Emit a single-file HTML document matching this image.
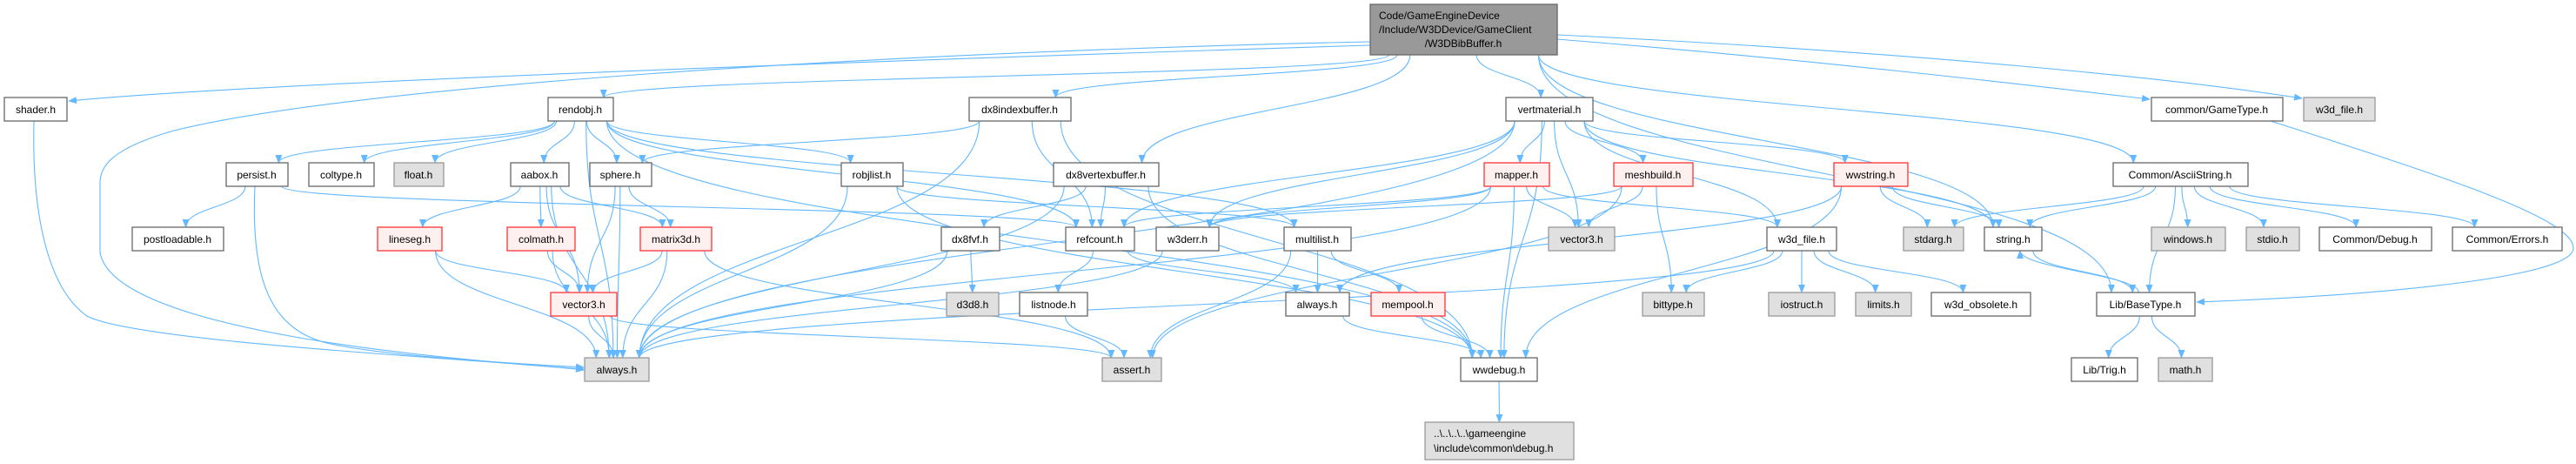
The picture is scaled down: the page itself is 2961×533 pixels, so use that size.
<!DOCTYPE html>
<html><head><meta charset="utf-8">
<style>
html,body{margin:0;padding:0;background:#fff;}
svg{display:block;}
text{font-family:"Liberation Sans",Arial,sans-serif;font-size:12px;fill:#000;}
.w rect{fill:#fff;stroke:#666;stroke-width:1.3;}
.g rect{fill:#e0e0e0;stroke:#999;stroke-width:1.3;}
.r rect{fill:#fff0f0;stroke:#f33;stroke-width:1.3;}
.t rect{fill:#999;stroke:#666;stroke-width:1.3;}
</style></head>
<body>
<svg id="s" width="2961" height="533" viewBox="0 0 2961 533" xmlns="http://www.w3.org/2000/svg">
<defs><marker id="a" markerWidth="10" markerHeight="8" refX="9" refY="4" orient="auto" markerUnits="userSpaceOnUse"><path d="M0,0 L10,4 L0,8 z" fill="#63b8ff"/></marker></defs>
<g id="edges" fill="none" stroke="#63b8ff" stroke-width="1.1"></g>
<g id="nodes">
<g id="T" class="t"><rect x="1575" y="5" width="215" height="58"/><text x="1585" y="22">Code/GameEngineDevice</text><text x="1585" y="38">/Include/W3DDevice/GameClient</text><text x="1682" y="54" text-anchor="middle">/W3DBibBuffer.h</text></g>
<g id="shader" class="w"><rect x="5" y="112" width="72" height="27"/><text x="41" y="130" text-anchor="middle">shader.h</text></g>
<g id="rendobj" class="w"><rect x="630" y="112" width="75" height="27"/><text x="667" y="130" text-anchor="middle">rendobj.h</text></g>
<g id="dx8index" class="w"><rect x="1114" y="112" width="117" height="27"/><text x="1172" y="130" text-anchor="middle">dx8indexbuffer.h</text></g>
<g id="vertmat" class="w"><rect x="1731" y="112" width="100" height="27"/><text x="1781" y="130" text-anchor="middle">vertmaterial.h</text></g>
<g id="gametype" class="w"><rect x="2473" y="112" width="151" height="27"/><text x="2548" y="130" text-anchor="middle">common/GameType.h</text></g>
<g id="w3dfileg" class="g"><rect x="2648" y="112" width="82" height="27"/><text x="2689" y="130" text-anchor="middle">w3d_file.h</text></g>

<g id="persist" class="w"><rect x="260" y="187" width="71" height="27"/><text x="295" y="205" text-anchor="middle">persist.h</text></g>
<g id="coltype" class="w"><rect x="355" y="187" width="75" height="27"/><text x="392" y="205" text-anchor="middle">coltype.h</text></g>
<g id="float" class="g"><rect x="453" y="187" width="57" height="27"/><text x="481" y="205" text-anchor="middle">float.h</text></g>
<g id="aabox" class="w"><rect x="587" y="187" width="67" height="27"/><text x="620" y="205" text-anchor="middle">aabox.h</text></g>
<g id="sphere" class="w"><rect x="678" y="187" width="71" height="27"/><text x="713" y="205" text-anchor="middle">sphere.h</text></g>
<g id="robjlist" class="w"><rect x="967" y="187" width="71" height="27"/><text x="1002" y="205" text-anchor="middle">robjlist.h</text></g>
<g id="dx8vert" class="w"><rect x="1211" y="187" width="121" height="27"/><text x="1271" y="205" text-anchor="middle">dx8vertexbuffer.h</text></g>
<g id="mapper" class="r"><rect x="1706" y="187" width="75" height="27"/><text x="1743" y="205" text-anchor="middle">mapper.h</text></g>
<g id="meshbuild" class="r"><rect x="1855" y="187" width="91" height="27"/><text x="1900" y="205" text-anchor="middle">meshbuild.h</text></g>
<g id="wwstring" class="r"><rect x="2108" y="187" width="85" height="27"/><text x="2150" y="205" text-anchor="middle">wwstring.h</text></g>
<g id="ascii" class="w"><rect x="2429" y="187" width="155" height="27"/><text x="2506" y="205" text-anchor="middle">Common/AsciiString.h</text></g>

<g id="postload" class="w"><rect x="152" y="261" width="105" height="27"/><text x="204" y="279" text-anchor="middle">postloadable.h</text></g>
<g id="lineseg" class="r"><rect x="434" y="261" width="74" height="27"/><text x="471" y="279" text-anchor="middle">lineseg.h</text></g>
<g id="colmath" class="r"><rect x="583" y="261" width="78" height="27"/><text x="622" y="279" text-anchor="middle">colmath.h</text></g>
<g id="matrix3d" class="r"><rect x="736" y="261" width="82" height="27"/><text x="777" y="279" text-anchor="middle">matrix3d.h</text></g>
<g id="dx8fvf" class="w"><rect x="1082" y="261" width="67" height="27"/><text x="1115" y="279" text-anchor="middle">dx8fvf.h</text></g>
<g id="refcount" class="w"><rect x="1225" y="261" width="79" height="27"/><text x="1264" y="279" text-anchor="middle">refcount.h</text></g>
<g id="w3derr" class="w"><rect x="1329" y="261" width="72" height="27"/><text x="1365" y="279" text-anchor="middle">w3derr.h</text></g>
<g id="multilist" class="w"><rect x="1476" y="261" width="77" height="27"/><text x="1514" y="279" text-anchor="middle">multilist.h</text></g>
<g id="vector3g" class="g"><rect x="1780" y="261" width="76" height="27"/><text x="1818" y="279" text-anchor="middle">vector3.h</text></g>
<g id="w3dfile" class="w"><rect x="2031" y="261" width="80" height="27"/><text x="2071" y="279" text-anchor="middle">w3d_file.h</text></g>
<g id="stdarg" class="g"><rect x="2188" y="261" width="69" height="27"/><text x="2222" y="279" text-anchor="middle">stdarg.h</text></g>
<g id="string" class="w"><rect x="2281" y="261" width="66" height="27"/><text x="2314" y="279" text-anchor="middle">string.h</text></g>
<g id="windows" class="g"><rect x="2473" y="261" width="85" height="27"/><text x="2515" y="279" text-anchor="middle">windows.h</text></g>
<g id="stdio" class="g"><rect x="2582" y="261" width="61" height="27"/><text x="2612" y="279" text-anchor="middle">stdio.h</text></g>
<g id="cdebug" class="w"><rect x="2666" y="261" width="129" height="27"/><text x="2730" y="279" text-anchor="middle">Common/Debug.h</text></g>
<g id="errors" class="w"><rect x="2819" y="261" width="126" height="27"/><text x="2882" y="279" text-anchor="middle">Common/Errors.h</text></g>

<g id="vector3" class="r"><rect x="633" y="336" width="76" height="27"/><text x="671" y="354" text-anchor="middle">vector3.h</text></g>
<g id="d3d8" class="g"><rect x="1088" y="336" width="60" height="27"/><text x="1118" y="354" text-anchor="middle">d3d8.h</text></g>
<g id="listnode" class="w"><rect x="1172" y="336" width="78" height="27"/><text x="1211" y="354" text-anchor="middle">listnode.h</text></g>
<g id="alwaysw" class="w"><rect x="1478" y="336" width="73" height="27"/><text x="1514" y="354" text-anchor="middle">always.h</text></g>
<g id="mempool" class="r"><rect x="1576" y="336" width="85" height="27"/><text x="1618" y="354" text-anchor="middle">mempool.h</text></g>
<g id="bittype" class="g"><rect x="1888" y="336" width="71" height="27"/><text x="1923" y="354" text-anchor="middle">bittype.h</text></g>
<g id="iostruct" class="g"><rect x="2033" y="336" width="76" height="27"/><text x="2071" y="354" text-anchor="middle">iostruct.h</text></g>
<g id="limits" class="g"><rect x="2133" y="336" width="64" height="27"/><text x="2165" y="354" text-anchor="middle">limits.h</text></g>
<g id="obsolete" class="w"><rect x="2220" y="336" width="114" height="27"/><text x="2277" y="354" text-anchor="middle">w3d_obsolete.h</text></g>
<g id="basetype" class="w"><rect x="2410" y="336" width="113" height="27"/><text x="2466" y="354" text-anchor="middle">Lib/BaseType.h</text></g>

<g id="always" class="g"><rect x="672" y="411" width="74" height="27"/><text x="709" y="429" text-anchor="middle">always.h</text></g>
<g id="assert" class="g"><rect x="1267" y="411" width="68" height="27"/><text x="1301" y="429" text-anchor="middle">assert.h</text></g>
<g id="wwdebug" class="w"><rect x="1679" y="411" width="88" height="27"/><text x="1723" y="429" text-anchor="middle">wwdebug.h</text></g>
<g id="trig" class="w"><rect x="2381" y="411" width="76" height="27"/><text x="2419" y="429" text-anchor="middle">Lib/Trig.h</text></g>
<g id="math" class="g"><rect x="2481" y="411" width="62" height="27"/><text x="2512" y="429" text-anchor="middle">math.h</text></g>

<g id="debug" class="g"><rect x="1638" y="485" width="171" height="43"/><text x="1648" y="502">..\..\..\..\gameengine</text><text x="1648" y="519">\include\common\debug.h</text></g>
</g>
</svg>
<script>
var O={
"T>shader":"M1575,52 C1000,70 300,95 79,116",
"T>always":"M1575,48 C1000,60 400,100 200,150 C130,170 115,190 115,210 L115,290 C130,380 500,412 671,424",
"shader>always":"M39,139 C36,260 60,335 100,363 C160,395 600,415 671,425",
"persist>always":"M293,214 C288,320 310,380 380,395 C450,410 600,418 671,422",
"gametype>basetype":"M2610,139 C2800,200 2958,250 2958,285 C2958,320 2720,340 2525,347",
"T>gametype":"M1790,45 C2100,70 2350,100 2471,114",
"T>w3dfileg":"M1790,40 C2200,60 2500,90 2646,113"
};
var E=[["T","shader"],["T","always"],["T","rendobj"],["T","dx8index"],["T","dx8vert"],["T","vertmat"],["T","gametype"],["T","w3dfileg"],["T","ascii"],["T","basetype"],["T","string"],
["shader","always"],
["rendobj","persist"],["rendobj","coltype"],["rendobj","float"],["rendobj","aabox"],["rendobj","sphere"],["rendobj","always"],["rendobj","robjlist"],["rendobj","refcount"],["rendobj","multilist"],["rendobj","wwdebug"],
["persist","postload"],["persist","always"],["persist","refcount"],
["aabox","lineseg"],["aabox","colmath"],["aabox","matrix3d"],["aabox","always"],["aabox","vector3"],
["sphere","vector3"],["sphere","matrix3d"],["sphere","always"],
["lineseg","vector3"],["lineseg","always"],["colmath","vector3"],["colmath","always"],
["matrix3d","vector3"],["matrix3d","always"],["matrix3d","assert"],
["vector3","always"],["vector3","assert"],
["dx8index","always"],["dx8index","refcount"],["dx8index","wwdebug"],["dx8index","sphere"],
["robjlist","always"],["robjlist","multilist"],["robjlist","wwdebug"],
["dx8vert","dx8fvf"],["dx8vert","refcount"],["dx8vert","always"],["dx8vert","wwdebug"],
["dx8fvf","d3d8"],["dx8fvf","always"],
["refcount","listnode"],["refcount","alwaysw"],["listnode","assert"],["w3derr","always"],
["vertmat","always"],["vertmat","refcount"],["vertmat","w3derr"],["vertmat","mapper"],["vertmat","vector3g"],["vertmat","meshbuild"],["vertmat","wwstring"],["vertmat","w3dfile"],["vertmat","string"],["vertmat","wwdebug"],
["mapper","vector3g"],["mapper","wwdebug"],["mapper","w3dfile"],["mapper","w3derr"],["mapper","refcount"],["mapper","always"],
["meshbuild","vector3g"],["meshbuild","bittype"],["meshbuild","w3derr"],["meshbuild","assert"],
["wwstring","stdarg"],["wwstring","string"],["wwstring","alwaysw"],["wwstring","wwdebug"],
["multilist","alwaysw"],["multilist","mempool"],["multilist","assert"],
["alwaysw","wwdebug"],["mempool","wwdebug"],
["w3dfile","bittype"],["w3dfile","iostruct"],["w3dfile","limits"],["w3dfile","obsolete"],["w3dfile","always"],
["wwdebug","debug"],
["ascii","stdarg"],["ascii","string"],["ascii","windows"],["ascii","stdio"],["ascii","cdebug"],["ascii","errors"],["ascii","basetype"],
["string","basetype"],["basetype","string"],["gametype","basetype"],["basetype","trig"],["basetype","math"]];
function box(id){var r=document.querySelector("#"+id+" rect");var x=+r.getAttribute("x"),y=+r.getAttribute("y"),w=+r.getAttribute("width"),h=+r.getAttribute("height");return {x:x,y:y,w:w,h:h,cx:x+w/2};}
var g=document.getElementById("edges"),ns="http://www.w3.org/2000/svg";
E.forEach(function(e){var d=O[e[0]+">"+e[1]];
 if(!d){var a=box(e[0]),b=box(e[1]);
 var dx=b.cx-a.cx;
 var sx=a.cx+Math.max(-a.w*0.4,Math.min(a.w*0.4,dx*0.15));
 var tx=b.cx+Math.max(-b.w*0.35,Math.min(b.w*0.35,-dx*0.1));
 if(b.y<a.y){
  sx=a.cx-8;tx=b.cx+8; var sy=a.y, ty=b.y+b.h;
  d="M"+sx+","+sy+" C"+sx+","+(sy-20)+" "+tx+","+(ty+20)+" "+tx+","+ty;
 } else {
  var sy=a.y+a.h, ty=b.y; var m=(ty-sy)*0.5;
  d="M"+sx+","+sy+" C"+sx+","+(sy+m)+" "+tx+","+(ty-m)+" "+tx+","+ty;
 }}
 var p=document.createElementNS(ns,"path");p.setAttribute("d",d);p.setAttribute("marker-end","url(#a)");g.appendChild(p);});
</script>
</body></html>
